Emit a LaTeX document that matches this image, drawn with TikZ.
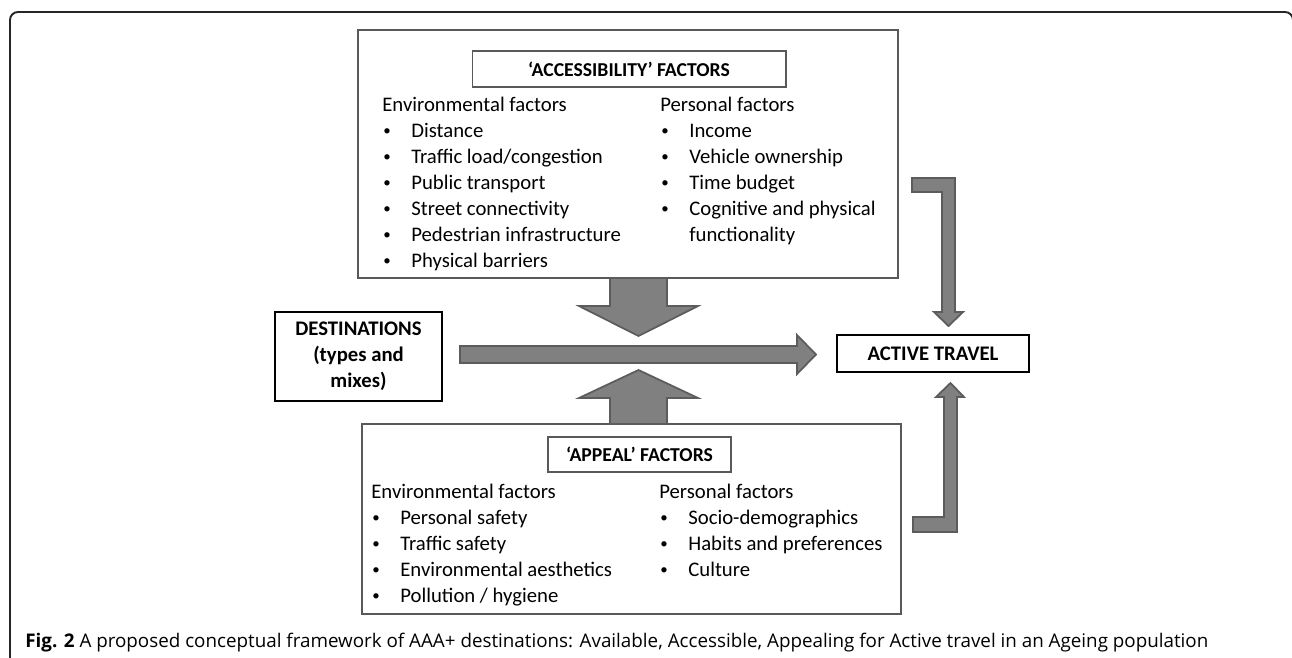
\documentclass[tikz,border=0pt]{standalone}
\usepackage{fontspec}
\setmainfont{Carlito}
\newfontfamily\capfont{Open Sans}
\usetikzlibrary{positioning}

\definecolor{arrowfill}{gray}{0.5}
\definecolor{arrowline}{gray}{0.36}
\definecolor{boxline}{gray}{0.35}

% small bullet as in the lists
\newcommand{\bul}{\hspace{0.6pt}\raisebox{0.15ex}{\fontsize{8.5}{8.5}\selectfont\textbullet}}

% list of factors: heading, then bullet rows
\newcommand{\factorlist}[2]{%
  \begin{tabular}[t]{@{}p{16.5pt}@{}l@{}}
    \multicolumn{2}{@{}l@{}}{#1}\\
    #2
  \end{tabular}}

\begin{document}
\begin{tikzpicture}[x=0.02cm, y=-0.02cm,
    every node/.style={font=\fontsize{11.8}{14.8}\selectfont, inner sep=0pt},
    factorbox/.style={draw=boxline, line width=1pt, fill=white},
    titlebox/.style={draw=boxline, line width=0.6pt, fill=white, font=\fontsize{11.2}{14}\selectfont\bfseries},
    mainbox/.style={draw=black, line width=1.4pt, fill=white, font=\fontsize{11.8}{14.8}\selectfont\bfseries, align=center},
    blockarrow/.style={fill=arrowfill, draw=arrowline, line width=1pt, line join=miter}]
    \clip (0,0) rectangle (1292,657);

    % Draw frame
    \draw[line width=1.1pt, rounded corners=0.16cm, black!85] (10,12) rectangle (1293,720);

    % Draw factor boxes
    \node (access) at (628,154) [factorbox, minimum width=10.8cm, minimum height=4.96cm] {};
    \node (appeal) at (631.5,519) [factorbox, minimum width=10.78cm, minimum height=3.8cm] {};

    \node (accesstitle) at (629,69) [titlebox, minimum width=6.28cm, minimum height=0.72cm] {‘ACCESSIBILITY’ FACTORS};
    \node (appealtitle) at (639.5,454.5) [titlebox, minimum width=3.66cm, minimum height=0.7cm] {‘APPEAL’ FACTORS};

    % Draw factor lists
    \node (accessenv) at (382,111) [anchor=base west] {\factorlist{Environmental factors}{%
      \bul & Distance\\
      \bul & Traffic load/congestion\\
      \bul & Public transport\\
      \bul & Street connectivity\\
      \bul & Pedestrian infrastructure\\
      \bul & Physical barriers}};
    \node (accesspers) at (660,111) [anchor=base west] {\factorlist{Personal factors}{%
      \bul & Income\\
      \bul & Vehicle ownership\\
      \bul & Time budget\\
      \bul & Cognitive and physical\\
      & functionality}};
    \node (appealenv) at (371,498) [anchor=base west] {\factorlist{Environmental factors}{%
      \bul & Personal safety\\
      \bul & Traffic safety\\
      \bul & Environmental aesthetics\\
      \bul & Pollution / hygiene}};
    \node (appealpers) at (659,498) [anchor=base west] {\factorlist{Personal factors}{%
      \bul & Socio-demographics\\
      \bul & Habits and preferences\\
      \bul & Culture}};

    % Draw destinations and outcome
    \node (dest) at (358.5,356.5) [mainbox, minimum width=3.34cm, minimum height=1.78cm] {DESTINATIONS\\(types and\\mixes)};
    \node (active) at (933,353.5) [mainbox, minimum width=3.84cm, minimum height=0.74cm] {ACTIVE TRAVEL};

    % Draw block arrows
    \draw[blockarrow] (610,278) -- (610,306) -- (579,306) -- (638.5,336) -- (698,306) -- (667,306) -- (667,278) -- cycle;
    \draw[blockarrow] (610,424) -- (610,398) -- (579,398) -- (638.5,370) -- (698,398) -- (667,398) -- (667,424) -- cycle;
    \draw[blockarrow] (460,346) -- (797,346) -- (797,335) -- (816,354.5) -- (797,374) -- (797,363) -- (460,363) -- cycle;
    \draw[blockarrow] (912,178) -- (955,178) -- (955,312) -- (963,312) -- (948.5,326) -- (934,312) -- (942,312) -- (942,192) -- (912,192) -- cycle;
    \draw[blockarrow] (913,532) -- (957,532) -- (957,397) -- (964,397) -- (950.5,383) -- (936,397) -- (944,397) -- (944,517) -- (913,517) -- cycle;

    % Draw caption
    \node (caption) at (25,647) [anchor=base west, font=\capfont\fontsize{10.7}{13}\selectfont] {\textbf{Fig. 2} A proposed conceptual framework of AAA+ destinations: Available, Accessible, Appealing for Active travel in an Ageing population};
\end{tikzpicture}
\end{document}
